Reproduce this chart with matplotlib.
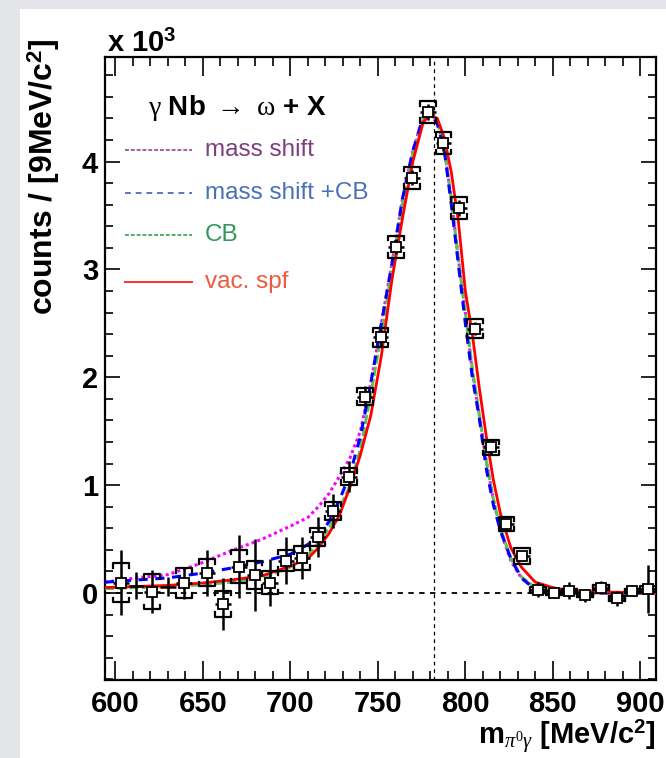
import matplotlib.pyplot as plt
from matplotlib.patches import Rectangle

plt.rcParams['font.family'] = ['Liberation Sans', 'DejaVu Sans']
plt.rcParams['mathtext.fontset'] = 'custom'
plt.rcParams['mathtext.rm'] = 'Liberation Serif'
plt.rcParams['mathtext.it'] = 'Liberation Serif:italic'
plt.rcParams['mathtext.bf'] = 'Liberation Sans:bold'

# data points (values in units of 10^3 counts)
sq_x = [603, 621, 639, 652.5, 661.5, 670.5, 679.5, 688.5, 697.5, 706.5, 715.5, 724.5,
        733.5, 742.5, 751.5, 760.5, 769.5, 778.5, 787.5, 796.5, 805.5, 814.5, 823.5,
        832.5, 841.5, 850.5, 859.5, 868.5, 877.5, 886.5, 895.5, 904.5]
sq_y = [0.096, 0.012, 0.093, 0.186, -0.10, 0.244, 0.167, 0.096, 0.30, 0.325, 0.52, 0.76,
        1.08, 1.82, 2.37, 3.21, 3.85, 4.46, 4.17, 3.57, 2.45, 1.35, 0.64,
        0.343, 0.03, 0.0, 0.02, -0.02, 0.05, -0.05, 0.02, 0.035]
stat_err = [0.30, 0.20, 0.15, 0.21, 0.24, 0.29, 0.33, 0.22, 0.22, 0.195, 0.185, 0.157,
            0.14, 0.10, 0.08, 0.07, 0.07, 0.07, 0.07, 0.07, 0.06, 0.06, 0.05,
            0.05, 0.07, 0.05, 0.08, 0.06, 0.06, 0.07, 0.05, 0.22]
sys_err = [0.18, 0.16, 0.135, 0.125, 0.12, 0.155, 0.13, 0.11, 0.10, 0.11, 0.087, 0.085,
           0.077, 0.08, 0.09, 0.10, 0.10, 0.10, 0.10, 0.10, 0.09, 0.07, 0.066,
           0.07, 0.03, 0.02, 0.02, 0.02, 0.02, 0.02, 0.02, 0.03]
half_bin = 4.5

# points drawn with error bars only
cross_x = [612, 630]
cross_y = [0.065, 0.058]
cross_err = [0.125, 0.09]

# model curves
curve_x = [594, 612, 630, 648, 666, 684, 700, 710, 716, 722, 728, 734, 740, 746, 752,
           758, 764, 770, 776, 780, 784, 788, 792, 796, 800, 804, 808, 812, 816, 820,
           826, 832, 840, 850, 860, 875, 909]
mass_shift = [0.10, 0.14, 0.17, 0.27, 0.39, 0.50, 0.62, 0.70, 0.80, 0.92, 1.08, 1.25, 1.50,
              1.95, 2.50, 3.05, 3.65, 4.10, 4.42, 4.45, 4.37, 4.12, 3.65, 3.10, 2.60, 2.05,
              1.65, 1.22, 0.87, 0.58, 0.30, 0.14, 0.04, 0.01, 0.0, 0.0, 0.0]
mass_shift_cb = [0.10, 0.12, 0.14, 0.18, 0.23, 0.29, 0.36, 0.45, 0.52, 0.66, 0.86, 1.10, 1.45,
                 1.95, 2.50, 3.05, 3.65, 4.10, 4.42, 4.45, 4.35, 4.10, 3.60, 3.05, 2.50, 2.00,
                 1.62, 1.15, 0.82, 0.58, 0.32, 0.14, 0.03, 0.01, 0.0, 0.0, 0.0]
cb = [0.04, 0.05, 0.06, 0.075, 0.10, 0.14, 0.24, 0.35, 0.47, 0.60, 0.78, 0.99, 1.33,
      1.85, 2.40, 3.00, 3.60, 4.07, 4.40, 4.45, 4.37, 4.12, 3.65, 3.10, 2.60, 2.08,
      1.65, 1.22, 0.87, 0.60, 0.32, 0.15, 0.05, 0.015, 0.0, 0.0, 0.0]
vac_spf = [0.05, 0.06, 0.07, 0.09, 0.12, 0.16, 0.25, 0.32, 0.42, 0.55, 0.72, 0.98, 1.28,
           1.65, 2.20, 2.90, 3.47, 4.00, 4.37, 4.43, 4.40, 4.22, 3.90, 3.45, 2.80, 2.40,
           1.90, 1.45, 1.05, 0.74, 0.42, 0.24, 0.10, 0.05, 0.02, 0.01, 0.0]

omega_mass = 782

fig = plt.figure(figsize=(6.66, 7.58), dpi=100)
fig.patch.set_facecolor('#e4e5e8')
fig.patches.append(Rectangle((20 / 666, 0), 1, 1 - 9 / 758, transform=fig.transFigure,
                             facecolor='white', edgecolor='none', zorder=-10))

ax = fig.add_axes([105 / 666, 1 - 680 / 758, 551 / 666, 623 / 758])
ax.set_xlim(594, 909)
ax.set_ylim(-0.807, 4.97)

# reference lines
ax.axhline(0, color='black', ls=(0, (3, 3)), lw=1.3, zorder=1)
ax.axvline(omega_mass, color='black', ls=(0, (3, 3)), lw=0.9, zorder=1)

# model curves
ax.plot(curve_x, mass_shift, color='#ff00ff', ls=(0, (1, 1)), lw=2.2, zorder=3)
ax.plot(curve_x, cb, color='#55c455', ls=(0, (3, 1)), lw=2.2, zorder=3)
ax.plot(curve_x, mass_shift_cb, color='#0000ff', ls=(0, (3, 2.5)), lw=2.2, zorder=3)
ax.plot(curve_x, vac_spf, color='#ff0000', lw=2.0, zorder=3)

# data: statistical errors
ax.errorbar(sq_x, sq_y, yerr=stat_err, xerr=half_bin, fmt='none', ecolor='black',
            elinewidth=1.8, capsize=0, zorder=4)
ax.errorbar(cross_x, cross_y, yerr=cross_err, xerr=half_bin, fmt='none', ecolor='black',
            elinewidth=1.8, capsize=0, zorder=4)

# data: systematic brackets
tick = 0.04
for x, y, s in zip(sq_x, sq_y, sys_err):
    for sign in (1, -1):
        yb = y + sign * s
        ax.plot([x - half_bin, x - half_bin, x + half_bin, x + half_bin],
                [yb - sign * tick, yb, yb, yb - sign * tick],
                color='black', lw=1.6, zorder=4)

ax.plot(sq_x, sq_y, ls='none', marker='s', ms=7, mfc='white', mec='black', mew=1.3,
        zorder=5)

# axes styling
for sp in ax.spines.values():
    sp.set_linewidth(1.6)
ax.set_xticks(range(600, 901, 50))
ax.set_xticks(range(600, 909, 10), minor=True)
ax.set_yticks(range(0, 5))
ax.set_yticks([v / 10 for v in range(-8, 50, 2)], minor=True)
ax.tick_params(axis='x', which='major', direction='in', length=13.5, width=1.2,
               top=True, pad=7, labelsize=21)
ax.tick_params(axis='x', which='minor', direction='in', length=6.5, width=1.2, top=True)
ax.tick_params(axis='y', which='major', direction='in', length=10.5, width=1.2,
               right=True, pad=5, labelsize=21)
ax.tick_params(axis='y', which='minor', direction='in', length=5.5, width=1.2, right=True)
for lab in ax.get_xticklabels() + ax.get_yticklabels():
    lab.set_fontweight('bold')

# axis titles
fig.text(44 / 666, 1 - 38 / 758, r'counts / [9MeV/c$^{\mathbf{2}}$]', rotation=90,
         ha='center', va='top', fontsize=23, fontweight='bold')
fig.text(656 / 666, 1 - 756 / 758, r'm$_{\pi^{0}\gamma}$ [MeV/c$^{\mathbf{2}}$]',
         ha='right', va='bottom', fontsize=21, fontweight='bold')
fig.text(107 / 666, 1 - 52 / 758, r'x 10$^{\mathbf{3}}$', ha='left', va='baseline',
         fontsize=21, fontweight='bold')

# reaction label and legend
ax.text(0.078, 0.907, r'$\mathrm{\gamma}$ Nb $\mathrm{\rightarrow}$ $\mathrm{\omega}$ + X',
        transform=ax.transAxes, ha='left', va='baseline', fontsize=20, fontweight='bold')

legend_labels = ['mass shift', 'mass shift +CB', 'CB', 'vac. spf']
legend_line_colors = ['#a060a0', '#5878c0', '#50b068', '#ff3030']
legend_text_colors = ['#7e3f7e', '#4a70b8', '#2f9a55', '#f05a3c']
legend_styles = [(0, (2, 1)), (0, (3, 2.5)), (0, (2, 1)), '-']
legend_rows = [0.851, 0.781, 0.714, 0.639]
for lab, lc, tc, ls, yr in zip(legend_labels, legend_line_colors, legend_text_colors,
                               legend_styles, legend_rows):
    ax.plot([0.036, 0.158], [yr, yr], transform=ax.transAxes, color=lc, ls=ls, lw=1.4)
    ax.text(0.181, yr, lab, transform=ax.transAxes, ha='left', va='center',
            fontsize=17.5, color=tc)

fig.savefig('out.png', dpi=100)
